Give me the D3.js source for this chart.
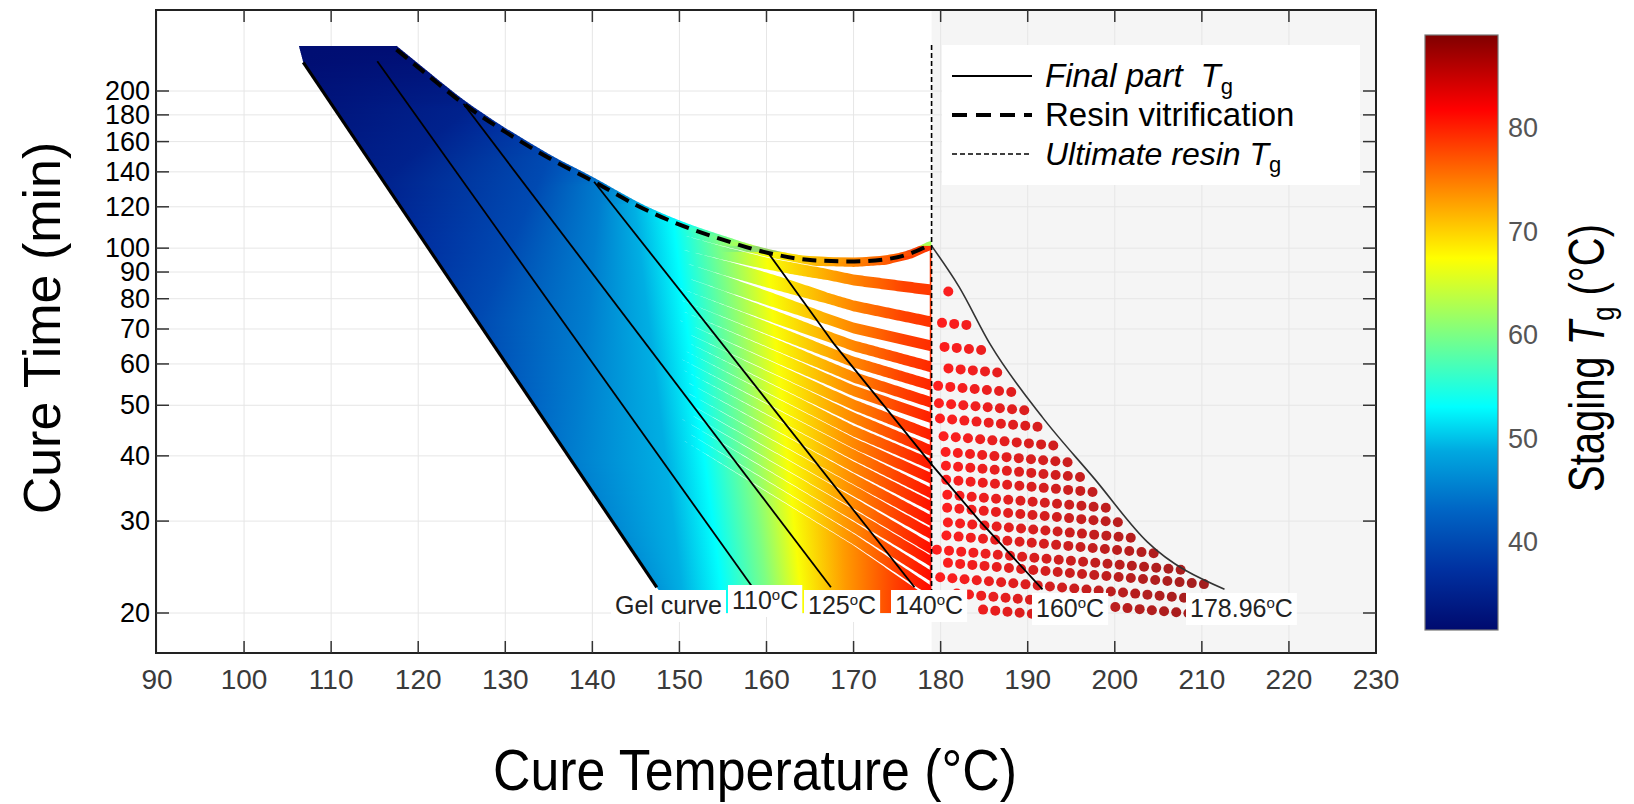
<!DOCTYPE html>
<html>
<head>
<meta charset="utf-8">
<script src="https://cdn.jsdelivr.net/npm/d3@7"></script>
<style>
  body { margin: 0; background: #fff; }
  text { font-family: "Liberation Sans", Arial, sans-serif; }
</style>
</head>
<body>
<script>
// ---- datos ----
var ticksX = [90, 100, 110, 120, 130, 140, 150, 160, 170, 180, 190, 200, 210, 220, 230];
var ticksY = [20, 30, 40, 50, 60, 70, 80, 90, 100, 120, 140, 160, 180, 200];
var ticksBarra = [40, 50, 60, 70, 80];
var rangoTg = [31.4, 88.9];

// [T, t]
var curvaGel = [[106.8, 227], [147.4, 22.4], [149.4, 20]];
var bordeSup = [[106.3, 244], [117.5, 244]];
var vitrificacion = [[117.5, 240], [121.3, 213], [125.2, 189], [130, 167], [135, 148.8], [140.2, 134],
  [145, 121], [149.8, 111.3], [154.6, 104.3], [160.2, 97.9], [165.3, 94.8], [170.1, 94.3],
  [173.7, 95.2], [176.7, 97.9], [178.5, 101]];
var tgUltima = 178.96;
var linea110 = [[115.3, 228], [158.4, 22.4]];
var linea125 = [[125.2, 189], [167.4, 22.4]];
var linea140 = [[140.2, 134], [177, 22.4]];
var linea160 = [[160.2, 97.9], [167.8, 65.4], [178.9, 38.6], [184.5, 30], [191.7, 22.2]];
var linea17896 = [[178.96, 101], [182.1, 84.4], [185.7, 65.4], [191.7, 47.4], [197.7, 36.1], [203.7, 27.4], [212.6, 22.2]];

// Tg de etapa sobre los bordes: gel [t, Tg], vitrificacion [T, Tg], linea 178.96 [t, Tg]
var tgGel = [[244, 32], [227, 32], [134, 35], [72, 40], [39, 45], [22.4, 47], [20, 47.5]];
var tgVit = [[117.5, 32], [121, 33], [125, 34.5], [130, 37.5], [135, 40], [140, 44], [144, 48], [147, 51],
  [149.8, 53.5], [152, 57], [154.6, 60], [157, 63], [159.5, 66.5], [162, 68.5], [165, 70.5], [168, 73],
  [171, 75.5], [174, 77.5], [176.7, 78.5], [178.5, 79]];
var tgBorde = [[101, 79], [84, 78.5], [60, 79.5], [40, 80.5], [20, 81.5]];
// isolineas de Tg de etapa: [Tg, T bajo, t bajo, T alto, t alto]
var isoTg = [[35, 116.0, 134, 125.8, 186], [40, 126.9, 72, 135, 148.8], [45, 137.7, 39, 141, 131.7],
  [49, 150.6, 20, 144.8, 121.5], [53, 155.2, 20, 149.3, 112], [60, 160.4, 20, 154.6, 104.3],
  [67, 164.2, 20, 160, 98.1], [73, 169.1, 20, 168, 94.5], [78, 174.5, 20, 176, 97]];

// filas de puntos (t en T = 160, 170, 178.96, 205); la fila 0 es la vitrificacion
var colsFilas = [160, 170, 178.96, 205];
var filas = [[94.1, 86.9, 83.1, 76.5], [86.9, 77.5, 72.2, 66.4], [80.2, 70.3, 65.0, 59.8],
  [74.8, 65.0, 59.2, 54.5], [70.3, 60.5, 54.6, 50.2], [66.4, 56.6, 50.6, 46.6], [63.0, 53.3, 47.3, 43.5],
  [59.7, 50.1, 43.8, 40.3], [56.9, 47.3, 40.9, 37.6], [54.2, 44.6, 38.5, 35.4], [51.6, 42.3, 36.2, 33.3],
  [49.2, 40.2, 33.9, 31.2], [46.9, 38.1, 32.0, 29.4], [44.6, 36.1, 30.0, 27.6], [42.5, 34.3, 28.3, 26.0],
  [40.5, 32.5, 26.5, 24.4], [38.6, 30.8, 25.1, 23.1], [36.8, 29.2, 23.5, 21.6], [35.0, 27.7, 22.0, 20.2],
  [33.4, 26.3, 20.7, 19.0]];
// puntos rojos: distancia (en grados) a la curva 178.96
var desfases = [1.6, 3.0, 4.4, 5.8, 7.2, 8.6, 10.0, 11.4, 12.8, 14.2, 15.6, 17.0, 18.4, 19.8, 21.2,
  22.6, 24.0, 25.4, 26.8, 28.2, 29.6, 31.0, 32.4, 33.8, 35.2, 36.6];
var tgRojoT = [179, 190, 200, 213];
var tgRojoV = [81.5, 84, 86, 88];

var etiquetas = ['Gel curve', '110', '125', '140', '160', '178.96'];

// ---- escalas ----
var svg = d3.select('body').append('svg').attr('width', 1634).attr('height', 804);
var defs = svg.append('defs');
var marco = {l: 156, r: 1376, t: 10, b: 653};
var x = d3.scaleLinear().domain([90, 230]).range([157, 1376]);
var y = d3.scaleLog().domain([20, 200]).range([613, 91]);
var mapa = d3.scaleLinear().domain([0, 0.1, 0.2, 0.3, 0.375, 0.5, 0.625, 0.75, 0.875, 1])
  .range(['#000a6e', '#0030a0', '#0064c4', '#00a8e0', '#00ffff', '#80ff80', '#ffff00', '#ff8000', '#ff0000', '#800000'])
  .clamp(true);
function colorTg(v) { return mapa((v - rangoTg[0]) / (rangoTg[1] - rangoTg[0])); }

function tEnTramo(p, q, t) {
  var f = (Math.log(t) - Math.log(p[1])) / (Math.log(q[1]) - Math.log(p[1]));
  return p[0] + f * (q[0] - p[0]);
}
function gelT(t) {
  if (t >= curvaGel[0][1]) return curvaGel[0][0];
  for (var i = 0; i < curvaGel.length - 1; i++) {
    if (t <= curvaGel[i][1] && t >= curvaGel[i + 1][1]) return tEnTramo(curvaGel[i], curvaGel[i + 1], t);
  }
  return curvaGel[curvaGel.length - 1][0];
}
function vitT(t) { // rama izquierda
  for (var i = 0; i < vitrificacion.length - 1; i++) {
    var a = vitrificacion[i], b = vitrificacion[i + 1];
    if (t <= a[1] && t >= b[1]) return tEnTramo(a, b, t);
  }
  return vitrificacion[0][0];
}
function col(a, j) { return a.map(function(d) { return d[j]; }); }
var colorGel = d3.scaleLog().domain(col(tgGel, 0)).range(col(tgGel, 1)).clamp(true);
var colorVit = d3.scaleLinear().domain(col(tgVit, 0)).range(col(tgVit, 1)).clamp(true);
var colorBorde = d3.scaleLog().domain(col(tgBorde, 0)).range(col(tgBorde, 1)).clamp(true);
var vitY = d3.scaleLinear().domain(col(vitrificacion, 0)).range(vitrificacion.map(function(d) { return y(d[1]); }));

// fondo gris a la derecha de Tg ultima
svg.append('rect').attr('x', x(tgUltima)).attr('y', marco.t)
  .attr('width', marco.r - x(tgUltima)).attr('height', marco.b - marco.t).attr('fill', '#f5f5f5');

// rejilla
svg.append('g').selectAll('line').data(ticksX).enter().append('line')
  .attr('x1', function(d) { return x(d); }).attr('x2', function(d) { return x(d); })
  .attr('y1', marco.t).attr('y2', marco.b).attr('stroke', '#e6e6e6');
svg.append('g').selectAll('line').data(ticksY).enter().append('line')
  .attr('x1', marco.l).attr('x2', marco.r)
  .attr('y1', function(d) { return y(d); }).attr('y2', function(d) { return y(d); })
  .attr('stroke', '#e6e6e6');

// ---- region coloreada ----
var vitArriba = d3.line().x(function(d) { return x(d[0]); }).y(function(d) { return y(d[1]) - 4; })
  .curve(d3.curveMonotoneX)(vitrificacion);
var pathRegion = 'M' + x(bordeSup[0][0]) + ',' + y(bordeSup[0][1]) + 'L' + x(bordeSup[1][0]) + ',' + y(bordeSup[1][1])
  + vitArriba.replace(/^M/, 'L')
  + 'L' + x(tgUltima) + ',' + (y(101.5) - 4) + 'L' + x(tgUltima) + ',' + y(20);
for (var i = curvaGel.length - 1; i >= 0; i--) pathRegion += 'L' + x(curvaGel[i][0]) + ',' + y(curvaGel[i][1]);
pathRegion += 'Z';
defs.append('clipPath').attr('id', 'region').append('path').attr('d', pathRegion);

var gRegion = svg.append('g').attr('clip-path', 'url(#region)');
var paso = 2;
var x2 = x(tgUltima);
d3.range(y(bordeSup[0][1]) - 2, y(20), paso).forEach(function(py, i) {
  var t = y.invert(py + paso / 2);
  var izq = gelT(t);
  var stops = [{T: izq, v: colorGel(t)}];
  var der = tgUltima, vder = colorBorde(t);
  if (t > 101) { der = vitT(t); vder = colorVit(der); }
  isoTg.forEach(function(d) {
    if (t >= d[2] && t <= d[4]) {
      var T = tEnTramo([d[1], d[2]], [d[3], d[4]], t);
      if (T > izq && T < der) stops.push({T: T, v: d[0]});
    }
  });
  stops.push({T: der, v: vder});
  stops.sort(function(a, b) { return a.T - b.T; });
  var x1 = x(izq);
  var gr = defs.append('linearGradient').attr('id', 'fila' + i)
    .attr('gradientUnits', 'userSpaceOnUse').attr('x1', x1).attr('x2', x2).attr('y1', 0).attr('y2', 0);
  stops.forEach(function(s) {
    gr.append('stop').attr('offset', Math.max(0, Math.min(1, (x(s.T) - x1) / (x2 - x1))))
      .attr('stop-color', colorTg(s.v));
  });
  gRegion.append('rect').attr('x', x1 - 8).attr('y', py).attr('width', x2 - x1 + 8).attr('height', paso + 0.6)
    .attr('fill', 'url(#fila' + i + ')');
});

// huecos blancos entre filas de puntos
var radio = 5.5;
function filaY(k, T) {
  if (k === 0) return vitY(T);
  var s = d3.scaleLinear().domain(colsFilas).range(filas[k - 1].map(function(v) { return y(v); }));
  return s(T);
}
var rampa = d3.scaleLinear().domain([154, 167]).range([0, 1]).clamp(true);
var rampaFina = d3.scaleLinear().domain([150, 159]).range([0, 0.75]).clamp(true);
var muestrasT = d3.range(150, tgUltima + 0.01, 0.25);
for (var k = 0; k < filas.length; k++) {
  var arriba = [], abajo = [];
  muestrasT.forEach(function(T) {
    var a = filaY(k, T) + radio, b = filaY(k + 1, T) - radio;
    var m = (a + b) / 2;
    var h = Math.max(Math.max(0, b - a) * rampa(T), rampaFina(T));
    arriba.push([x(T), m - h / 2]);
    abajo.push([x(T), m + h / 2]);
  });
  var pts = arriba.concat(abajo.reverse());
  gRegion.append('path').attr('d', 'M' + pts.join('L') + 'Z').attr('fill', '#fff');
}

// puntos rojos a la derecha de Tg ultima
var curvaY = d3.scaleLinear().domain(linea17896.map(function(d) { return x(d[0]); }))
  .range(linea17896.map(function(d) { return y(d[1]); }));
var colorRojo = d3.scaleLinear().domain(tgRojoT).range(tgRojoV).clamp(true);
var puntos = [];
for (var k = 1; k <= filas.length; k++) {
  var lo = tgUltima, hi = 230;
  for (var n = 0; n < 40; n++) {
    var m = (lo + hi) / 2;
    if (filaY(k, m) - curvaY(x(m)) > 0) lo = m; else hi = m;
  }
  desfases.forEach(function(o) {
    var T = lo - o;
    if (T < tgUltima + 0.6) return;
    var py = filaY(k, T);
    if (py > y(20) + 2) return;
    puntos.push({T: T, py: py});
  });
}
svg.append('g').selectAll('circle').data(puntos).enter().append('circle')
  .attr('cx', function(d) { return x(d.T); }).attr('cy', function(d) { return d.py; }).attr('r', 5)
  .attr('fill', function(d) { return colorTg(colorRojo(d.T)); }).attr('fill-opacity', 0.88);

// ---- curvas ----
var linea = d3.line().x(function(d) { return x(d[0]); }).y(function(d) { return y(d[1]); });
var lineaSuave = d3.line().x(function(d) { return x(d[0]); }).y(function(d) { return y(d[1]); }).curve(d3.curveMonotoneX);
svg.append('path').attr('d', linea(curvaGel.slice(0, 2))).attr('stroke', '#000').attr('stroke-width', 3.2).attr('fill', 'none');
[linea110, linea125, linea140, linea160].forEach(function(l) {
  svg.append('path').attr('d', linea(l)).attr('stroke', '#000').attr('stroke-width', 1.8).attr('fill', 'none');
});
svg.append('path').attr('d', lineaSuave(linea17896)).attr('stroke', '#333').attr('stroke-width', 1.6).attr('fill', 'none');
svg.append('path').attr('d', lineaSuave(vitrificacion)).attr('stroke', '#000').attr('stroke-width', 4)
  .attr('stroke-dasharray', '14,8').attr('fill', 'none');
svg.append('line').attr('x1', x(tgUltima)).attr('x2', x(tgUltima)).attr('y1', y(245)).attr('y2', y(20))
  .attr('stroke', '#000').attr('stroke-width', 1.6).attr('stroke-dasharray', '5,3');

// ---- etiquetas de las curvas ----
var posEtiq = [[615, 614], [732, 609], [808, 614], [895, 614], [1036, 617], [1190, 617]];
var gEtiq = svg.append('g');
etiquetas.forEach(function(e, i) {
  var g = gEtiq.append('g');
  var fondo = g.append('rect').attr('fill', '#fff');
  var t = g.append('text').attr('x', posEtiq[i][0]).attr('y', posEtiq[i][1]).attr('font-size', 25).attr('fill', '#222');
  t.append('tspan').text(e);
  if (i > 0) {
    t.append('tspan').attr('font-size', 15).attr('dy', -9).text('o');
    t.append('tspan').attr('dy', 9).text('C');
  }
  var bb = t.node().getBBox();
  fondo.attr('x', bb.x - 4).attr('y', bb.y - 1).attr('width', bb.width + 8).attr('height', bb.height + 4);
});

// ---- marco y ejes ----
svg.append('rect').attr('x', marco.l).attr('y', marco.t).attr('width', marco.r - marco.l).attr('height', marco.b - marco.t)
  .attr('fill', 'none').attr('stroke', '#222').attr('stroke-width', 2);
var gTicks = svg.append('g').attr('stroke', '#333').attr('stroke-width', 1.5);
ticksX.slice(1, -1).forEach(function(d) {
  gTicks.append('line').attr('x1', x(d)).attr('x2', x(d)).attr('y1', marco.b).attr('y2', marco.b - 12);
  gTicks.append('line').attr('x1', x(d)).attr('x2', x(d)).attr('y1', marco.t).attr('y2', marco.t + 12);
});
ticksY.forEach(function(d) {
  gTicks.append('line').attr('x1', marco.l).attr('x2', marco.l + 13).attr('y1', y(d)).attr('y2', y(d));
  gTicks.append('line').attr('x1', marco.r).attr('x2', marco.r - 13).attr('y1', y(d)).attr('y2', y(d));
});
svg.append('g').selectAll('text').data(ticksX).enter().append('text')
  .attr('x', function(d) { return x(d); }).attr('y', 689).attr('text-anchor', 'middle')
  .attr('font-size', 28).attr('fill', '#3a3a3a').text(function(d) { return d; });
svg.append('g').selectAll('text').data(ticksY).enter().append('text')
  .attr('x', 150).attr('y', function(d) { return y(d) + 9; }).attr('text-anchor', 'end')
  .attr('font-size', 27).attr('fill', '#000').text(function(d) { return d; });

// titulos
svg.append('text').attr('transform', 'translate(60,328) rotate(-90)').attr('text-anchor', 'middle')
  .attr('font-size', 52).text('Cure Time (min)');
svg.append('text').attr('transform', 'translate(755,790) scale(0.91,1)').attr('text-anchor', 'middle')
  .attr('font-size', 57).text('Cure Temperature (\u00b0C)');

// ---- leyenda ----
var gLey = svg.append('g');
gLey.append('rect').attr('x', 942).attr('y', 45).attr('width', 418).attr('height', 140).attr('fill', '#fff');
gLey.append('line').attr('x1', 952).attr('x2', 1032).attr('y1', 76).attr('y2', 76).attr('stroke', '#000').attr('stroke-width', 2);
gLey.append('line').attr('x1', 952).attr('x2', 1032).attr('y1', 115).attr('y2', 115).attr('stroke', '#000').attr('stroke-width', 4).attr('stroke-dasharray', '15,9');
gLey.append('line').attr('x1', 952).attr('x2', 1032).attr('y1', 154).attr('y2', 154).attr('stroke', '#000').attr('stroke-width', 1.6).attr('stroke-dasharray', '5,3');
var l1 = gLey.append('text').attr('x', 1045).attr('y', 87).attr('font-size', 33);
l1.append('tspan').attr('font-style', 'italic').text('Final part');
l1.append('tspan').attr('font-style', 'italic').attr('dx', 18).text('T');
l1.append('tspan').attr('font-size', 22).attr('dy', 7).text('g');
gLey.append('text').attr('x', 1045).attr('y', 126).attr('font-size', 33).text('Resin vitrification');
var l3 = gLey.append('text').attr('x', 1045).attr('y', 165).attr('font-size', 32);
l3.append('tspan').attr('font-style', 'italic').text('Ultimate resin T');
l3.append('tspan').attr('font-size', 22).attr('dy', 7).text('g');

// ---- barra de color ----
var barra = d3.scaleLinear().domain(rangoTg).range([630, 35]);
var grB = defs.append('linearGradient').attr('id', 'barra').attr('x1', 0).attr('y1', 1).attr('x2', 0).attr('y2', 0);
mapa.domain().forEach(function(d) { grB.append('stop').attr('offset', d).attr('stop-color', mapa(d)); });
svg.append('rect').attr('x', 1425).attr('y', barra(rangoTg[1])).attr('width', 73)
  .attr('height', barra(rangoTg[0]) - barra(rangoTg[1])).attr('fill', 'url(#barra)')
  .attr('stroke', '#777').attr('stroke-width', 1.2);
svg.append('g').selectAll('text').data(ticksBarra).enter().append('text')
  .attr('x', 1508).attr('y', function(d) { return barra(d) + 10; })
  .attr('font-size', 27).attr('fill', '#555').text(function(d) { return d; });
var tb = svg.append('text').attr('transform', 'translate(1604,358) rotate(-90) scale(0.8,1)')
  .attr('text-anchor', 'middle').attr('font-size', 50);
tb.append('tspan').text('Staging ');
tb.append('tspan').attr('font-style', 'italic').text('T');
tb.append('tspan').attr('font-size', 32).attr('dy', 10).text('g');
tb.append('tspan').attr('dy', -10).text(' (\u00b0C)');
</script>
</body>
</html>
